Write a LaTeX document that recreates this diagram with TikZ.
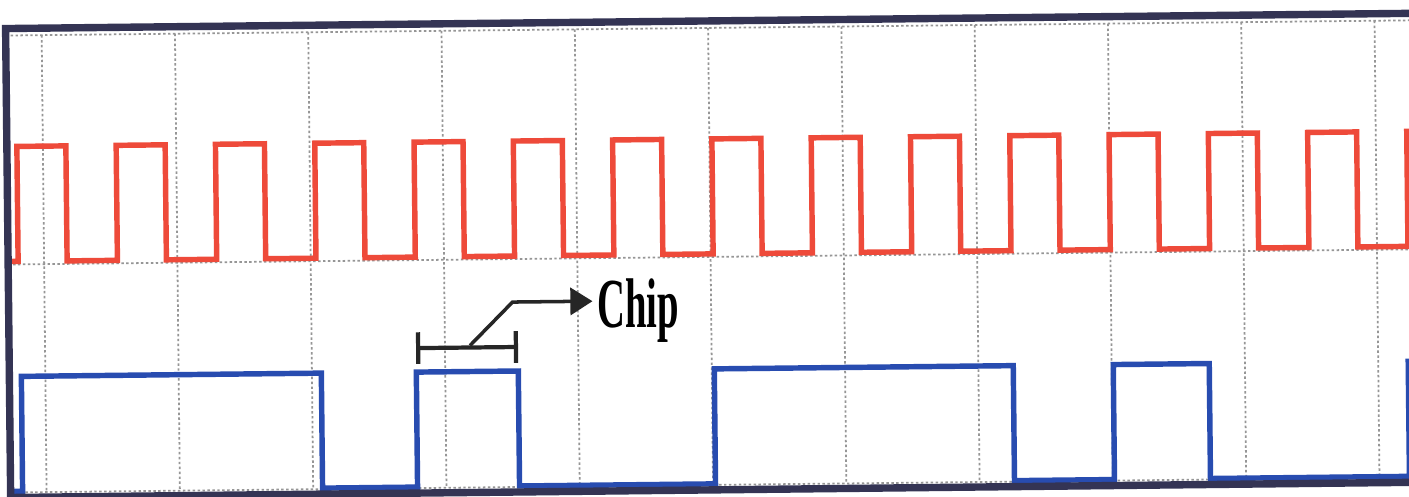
\documentclass[tikz,border=0pt]{standalone}
\usepackage{fontspec}
\setmainfont{Liberation Serif}
\usetikzlibrary{positioning,calc}
\usetikzlibrary{arrows.meta}
\definecolor{TraceRed}{RGB}{238,74,58}
\definecolor{TraceBlue}{RGB}{40,76,176}
\definecolor{FrameNavy}{RGB}{52,52,84}
\definecolor{GridGray}{RGB}{150,150,150}
\tikzset{
  frame/.style={draw=FrameNavy,line width=2.1pt},
  gridln/.style={draw=GridGray,line width=0.5pt,dash pattern=on 0.7pt off 0.7pt},
  redwave/.style={draw=TraceRed,line width=1.55pt,line join=miter},
  bluewave/.style={draw=TraceBlue,line width=1.55pt,line join=miter},
}
\tikzset{chipbar/.style={draw=black!85,line width=1.2pt,{Bar[width=9pt]}-{Bar[width=9pt]}}, chiparrow/.style={draw=black!85,line width=1pt,shorten >=1.2pt,-{Triangle[length=6.3pt,width=7.7pt]}},chiplab/.style={font=\bfseries\fontsize{20}{20}\selectfont,inner sep=0pt}}

\begin{document}
\begin{tikzpicture}[x=0.1mm,y=-0.1mm]
\clip (0,0) rectangle (1409,497);
\fill[white] (0,0) rectangle (1409,497);
\begin{scope}[rotate around={0.62:(704,250)}]
% grid
\foreach \k in {0,...,10}
  \draw[gridln] ({44+133.3*\k},28) -- ({44+133.3*\k},485);
\foreach \gy in {28,257,485}
  \draw[gridln] (8,\gy) -- (1440,\gy);
% clock
\draw[redwave] (8,254) \foreach \k in {0,...,13} {
  -- ({18+99.3*\k},254) -- ({18+99.3*\k},139) -- ({67+99.3*\k},139) -- ({67+99.3*\k},254) }
  -- (1408,254) -- (1408,139) -- (1440,139);
% data
\draw[bluewave] (8,484) -- (20,484) -- (20,369) -- (320,369) -- (320,484) -- (415,484)
  -- (415,369) -- (517,369) -- (517,484) -- (713,484) -- (713,369) -- (1012,369)
  -- (1012,484) -- (1112,484) -- (1112,369) -- (1208,369) -- (1208,484) -- (1407,484)
  -- (1407,369) -- (1440,369);
\draw[frame] (8,21) rectangle (1460,490);
% chip
\coordinate (barL) at (415,345);
\coordinate (barR) at (517,345);
\coordinate (stair) at (469,343);
\coordinate (bend) at (512,300);
\node[chiplab,anchor=base west] (chiplbl) at (596,326) {\scalebox{0.55}[1]{Chip}};
\draw[chipbar] (barL) -- (barR);
\draw[chiparrow] (stair) -- (bend) -- (bend -| chiplbl.west);
\end{scope}
\end{tikzpicture}
\end{document}
